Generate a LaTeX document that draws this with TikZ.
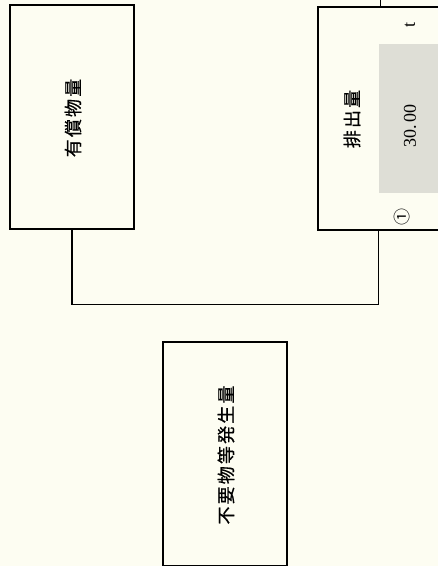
\documentclass[tikz,border=0pt]{standalone}
\usepackage{fontspec}
\usepackage{tikz}
\usetikzlibrary{calc}
\setmainfont{Liberation Serif}
\newfontfamily\jpfont[FakeBold=0.6, LetterSpace=12]{Noto Sans CJK JP}
\newfontfamily\jpsymbol{Noto Sans CJK JP}
\definecolor{paper}{RGB}{253,253,242}
\definecolor{screen}{RGB}{222,222,214}

\begin{document}
\begin{tikzpicture}[x=1pt, y=-1pt]
            \tikzset{box/.style={draw, line width=1.3pt, inner sep=0pt, minimum width=124pt, minimum height=224pt}}
            \tikzset{label/.style={rotate=90, font=\jpfont\fontsize{18}{20}\selectfont}}
            \tikzset{digits/.style={rotate=90, font=\fontsize{18}{20}\selectfont}}
            \tikzset{wire/.style={line width=1.3pt}}
            \clip (0, 0) rectangle (438, 566);
            \fill[paper] (0, 0) rectangle (438, 566);

            \node[box] (paid) at (72, 117) {};
            \node[box, minimum width=160pt, minimum height=223pt] (out) at (398, 118.5) {};
            \node[box] (waste) at (225, 454) {};

            \node[fill=screen, inner sep=0pt, minimum width=81pt, minimum height=149pt] (shade) at (419.5, 118.5) {};

            \node[label] (paidtext) at (73, 118) {有償物量};
            \node[label] (outtext) at (352, 119) {排出量};
            \node[label] (wastetext) at (226, 455) {不要物等発生量};
            \node[digits] (amount) at (410, 126) {30.\hspace{3pt}00};
            \node[digits] (unit) at (410, 25) {t};
            \node[rotate=90, font=\jpsymbol\fontsize{17}{19}\selectfont] (num) at (402, 217) {①};

            \coordinate (outin) at ([xshift=61pt]out.south west);
            \coordinate (outup) at ([xshift=63pt]out.north west);
            \coordinate (above) at ($(outup)+(0, -10)$);
            \draw[wire] (paid.south) -- ++(0, 75) -| (outin);
            \draw[wire] (outup) -- (above);
        \end{tikzpicture}
\end{document}
